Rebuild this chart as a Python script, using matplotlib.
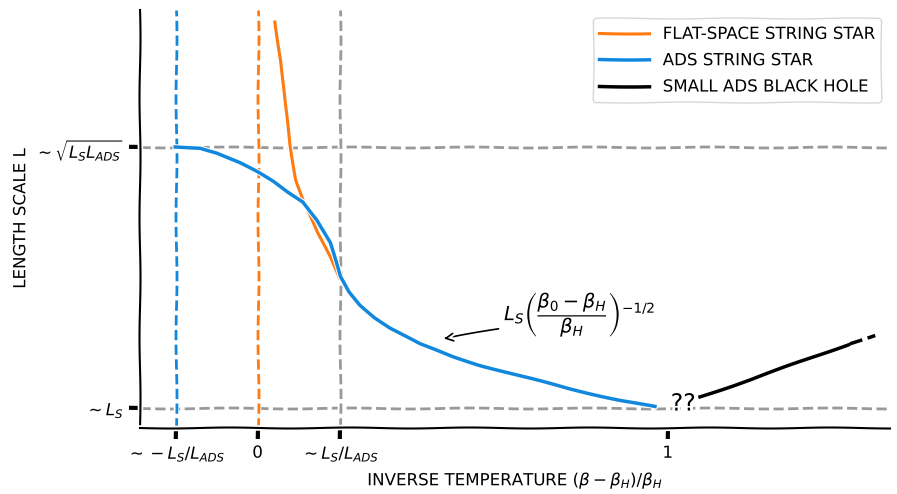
import matplotlib
matplotlib.use("Agg")
import matplotlib.pyplot as plt

# x in units of (beta - beta_H)/beta_H, y in arbitrary length units
x_ticks = [-0.2, 0.0, 0.2, 1.0]
x_tick_labels = [r"$\sim -L_S/L_{ADS}$", r"$0$", r"$\sim L_S/L_{ADS}$", r"$1$"]
y_ticks = [0.048, 0.672]
y_tick_labels = [r"$\sim L_S$", r"$\sim\sqrt{L_S L_{ADS}}$"]

flat_x = [0.041, 0.056, 0.066, 0.078, 0.093, 0.110, 0.144, 0.176, 0.200]
flat_y = [0.971, 0.880, 0.773, 0.677, 0.593, 0.545, 0.467, 0.410, 0.359]

ads_x = [-0.202, -0.141, -0.100, -0.044, -0.002, 0.037, 0.071, 0.110, 0.144, 0.176,
         0.200, 0.222, 0.249, 0.285, 0.322, 0.395, 0.476, 0.541, 0.639, 0.761, 0.883, 0.968]
ads_y = [0.672, 0.670, 0.658, 0.634, 0.612, 0.589, 0.565, 0.541, 0.498, 0.443,
         0.362, 0.325, 0.294, 0.264, 0.239, 0.200, 0.170, 0.150, 0.124, 0.093, 0.066, 0.050]

bh_x = [1.078, 1.200, 1.322, 1.444]
bh_y = [0.074, 0.115, 0.158, 0.201]
bh_ext_x = [1.444, 1.505]
bh_ext_y = [0.201, 0.222]

orange = "#ff7a10"
blue = "#1188dd"
gray = "#999999"

plt.xkcd(scale=0.5, length=120, randomness=1)
plt.rcParams['font.family'] = ['DejaVu Sans']
plt.rcParams['mathtext.fontset'] = 'dejavusans'

fig = plt.figure(figsize=(8.97, 4.94), dpi=100)
ax = fig.add_axes([0.156, 0.134, 0.836, 0.846])

ax.axhline(y_ticks[0], color=gray, ls='--', lw=2)
ax.axhline(y_ticks[1], color=gray, ls='--', lw=2)
ax.axvline(x_ticks[0], color=blue, ls='--', lw=2)
ax.axvline(x_ticks[1], color=orange, ls='--', lw=2)
ax.axvline(x_ticks[2], color=gray, ls='--', lw=2)

ax.plot(flat_x, flat_y, color=orange, lw=2.2, label="FLAT-SPACE STRING STAR")
ax.plot(ads_x, ads_y, color=blue, lw=2.5, label="ADS STRING STAR")
ax.plot(bh_x, bh_y, color='black', lw=2.5, label="SMALL ADS BLACK HOLE")
ax.plot(bh_ext_x, bh_ext_y, color='black', lw=2.5, ls='--')

ax.text(1.037, 0.058, "??", fontsize=17, ha='center', va='center')

ax.annotate(r"$L_S\left(\dfrac{\beta_0-\beta_H}{\beta_H}\right)^{-1/2}$",
            xy=(0.446, 0.212), xytext=(0.60, 0.272), fontsize=14, va='center',
            arrowprops=dict(arrowstyle='->', color='black', lw=1.2))

ax.set_xlim(-0.288, 1.541)
ax.set_ylim(0, 1.0)
ax.set_xticks(x_ticks)
ax.set_xticklabels(x_tick_labels, fontsize=12)
ax.set_yticks(y_ticks)
ax.set_yticklabels(y_tick_labels, fontsize=12)
ax.spines['top'].set_visible(False)
ax.spines['right'].set_visible(False)
ax.set_xlabel(r"INVERSE TEMPERATURE $(\beta-\beta_H)/\beta_H$", fontsize=12)
ax.set_ylabel("LENGTH SCALE L", fontsize=12)

ax.legend(loc='upper right', fontsize=12, handlelength=3)

fig.savefig("out.png", dpi=100)
